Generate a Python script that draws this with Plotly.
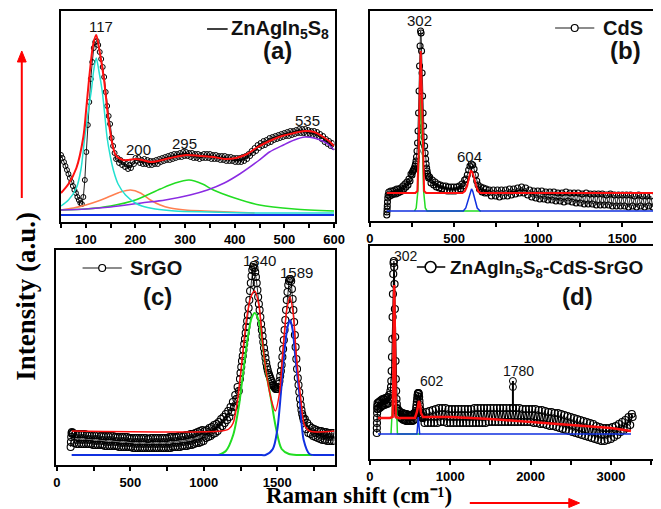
import plotly.graph_objects as go

W, H = 661, 509

# ---------------- Panel (a): ZnAgIn5S8 ----------------
a_x = [50, 53, 56, 59, 62, 65, 68, 71, 74, 77,
       80, 83, 86, 89, 92, 95, 98, 101, 104, 107,
       110, 113, 116, 119, 122, 125, 128, 131, 134, 137,
       140, 143, 146, 149, 152, 155, 158, 161, 164, 167,
       170, 173, 176, 179, 182, 185, 188, 191, 194, 197,
       200, 203, 206, 209, 212, 215, 218, 221, 224, 227,
       230, 233, 236, 239, 242, 245, 248, 251, 254, 257,
       260, 263, 266, 269, 272, 275, 278, 281, 284, 287,
       290, 293, 296, 299, 302, 305, 308, 311, 314, 317,
       320, 323, 326, 329, 332, 335, 338, 341, 344, 347,
       350, 353, 356, 359, 362, 365, 368, 371, 374, 377,
       380, 383, 386, 389, 392, 395, 398, 401, 404, 407,
       410, 413, 416, 419, 422, 425, 428, 431, 434, 437,
       440, 443, 446, 449, 452, 455, 458, 461, 464, 467,
       470, 473, 476, 479, 482, 485, 488, 491, 494, 497,
       500, 503, 506, 509, 512, 515, 518, 521, 524, 527,
       530, 533, 536, 539, 542, 545, 548, 551, 554, 557,
       560, 563, 566, 569, 572, 575, 578, 581, 584, 587,
       590, 593, 596, 599]
a_y = [67, 64, 60, 56, 52, 48, 44, 40, 36, 32,
       29, 25, 22, 19, 18, 25, 42, 70, 97, 120,
       143, 160, 174, 180, 181, 177, 170, 163, 155, 145,
       130, 116, 106, 98, 84, 76, 69, 63, 64, 59,
       62, 57, 60, 55, 58, 53, 57, 54, 60, 58,
       64, 61, 64, 59, 62, 58, 63, 58, 62, 57,
       61, 57, 61, 58, 62, 58, 63, 60, 64, 61,
       65, 62, 66, 62, 67, 63, 68, 64, 68, 65,
       69, 65, 70, 66, 70, 66, 69, 65, 69, 64,
       68, 64, 68, 63, 67, 64, 68, 64, 68, 64,
       68, 63, 67, 63, 67, 63, 66, 62, 66, 62,
       66, 61, 65, 61, 65, 61, 64, 60, 64, 60,
       64, 60, 65, 61, 66, 63, 68, 66, 71, 69,
       74, 71, 77, 74, 79, 76, 81, 77, 82, 79,
       84, 80, 85, 82, 86, 83, 87, 84, 88, 85,
       89, 86, 90, 86, 91, 87, 91, 88, 92, 89,
       93, 89, 93, 89, 93, 88, 92, 88, 91, 87,
       91, 86, 90, 85, 88, 83, 86, 80, 83, 78,
       81, 76, 79, 75]
a_fit_x = [50, 65, 81, 95, 101, 108, 115, 121, 128, 137, 147, 160, 175, 186, 200, 213, 230, 245,
           270, 304, 330, 357, 380, 403, 425, 443, 470, 495, 520, 541, 560, 575, 590, 600]
a_fit_y = [29, 38, 54, 85, 114, 150, 178, 187, 170, 141, 97, 67, 62, 62, 63, 62, 60, 61,
           64, 67, 66, 65, 63, 64, 68, 74, 81, 86, 89, 91, 90, 86, 81, 76]
a_p1_x = [50, 65, 81, 90, 97, 104, 111, 116, 121, 126, 133, 138, 143, 150, 156, 165, 180, 200, 213, 240, 279, 350, 450, 600]
a_p1_y = [16, 22, 34, 52, 81, 108, 131, 152, 164, 152, 131, 108, 84, 64, 51, 38, 27, 19, 16, 13, 11, 10, 9, 9]
a_p2_x = [50, 75, 100, 125, 150, 170, 190, 210, 230, 250, 270, 300, 340, 390, 440]
a_p2_y = [12, 14, 17, 21, 26, 30, 32, 29, 22, 17, 14, 12, 11, 10, 9]
a_p3_x = [50, 100, 150, 200, 250, 280, 308, 335, 357, 400, 450, 520, 600]
a_p3_y = [12, 13, 16, 22, 33, 39, 42, 38, 32, 24, 17, 13, 11]
a_p4_x = [50, 100, 150, 212, 260, 310, 345, 379, 410, 447, 470, 498, 520, 541, 560, 577, 590, 600]
a_p4_y = [12, 13, 15, 19, 22, 27, 32, 39, 48, 61, 70, 77, 82, 85, 84, 81, 77, 72]
a_base_x = [50, 600]
a_base_y = [7, 7]

# ---------------- Panel (b): CdS ----------------
b_x = [100, 101, 102, 103, 104, 106, 108,
       112, 118, 124, 130, 136, 142, 148, 154, 160, 166, 172, 178, 184, 190, 196, 202, 208, 214, 220, 226, 232, 238, 244, 250,
       253, 256, 259, 262, 265, 268, 271, 274, 277, 280, 283, 286, 289, 292, 295, 298, 301, 304, 307, 310,
       313, 316, 319, 322, 325, 328, 331, 334, 337, 340, 343, 346, 349,
       355, 363, 371, 379, 387, 395, 403, 411, 419, 427, 435, 443, 451, 459, 467, 475, 483, 491, 499, 507,
       515, 523, 531, 539, 547, 555, 563, 571, 579, 587, 595, 603, 611, 619, 627, 635, 643, 651, 659, 667,
       675, 683, 691, 699,
       710, 722, 734, 746, 758, 770, 782, 794, 806, 818, 830, 842, 854, 866, 878, 890, 902, 914, 926, 938,
       950, 962, 974, 986, 998, 1010, 1022, 1034, 1046, 1058, 1070, 1082, 1094, 1106, 1118, 1130, 1142, 1154, 1166, 1178,
       1190, 1202, 1214, 1226, 1238, 1250, 1262, 1274, 1286, 1298, 1310, 1322, 1334, 1346, 1358, 1370, 1382, 1394, 1406, 1418,
       1430, 1442, 1454, 1466, 1478, 1490, 1502, 1514, 1526, 1538, 1550, 1562, 1574, 1586, 1598, 1610, 1622, 1634, 1646, 1658,
       1670, 1682]
b_y = [6, 9, 12, 15, 19, 23, 26,
       29, 25, 30, 26, 30, 27, 31, 27, 32, 28, 32, 29, 33, 30, 35, 32, 37, 34, 39, 36, 42, 40, 47, 46,
       49, 50, 51, 52, 53, 55, 57, 60, 64, 70, 78, 90, 108, 130, 155, 175, 190, 188, 170, 148,
       125, 108, 95, 84, 75, 68, 62, 57, 53, 50, 47, 45, 43,
       44, 38, 41, 36, 39, 34, 37, 33, 36, 32, 35, 31, 35, 30, 34, 30, 34, 30, 34, 30,
       34, 31, 35, 32, 37, 35, 41, 42, 46, 51, 55, 57, 56, 52, 46, 40, 36, 32, 34, 29,
       33, 28, 32, 28,
       31, 25, 31, 25, 31, 24, 31, 25, 31, 25, 32, 26, 32, 27, 33, 28, 34, 28, 33, 26,
       31, 24, 30, 23, 30, 22, 30, 22, 29, 21, 29, 21, 29, 20, 28, 20, 28, 19, 29, 20,
       28, 19, 28, 18, 28, 18, 27, 17, 28, 17, 27, 17, 27, 16, 27, 16, 27, 16, 26, 16,
       27, 15, 26, 15, 26, 15, 26, 15, 26, 14, 26, 15, 25, 14, 26, 15, 25, 14, 25, 15,
       25, 14]
b_fit_x = [100, 250, 270, 282, 290, 296, 302, 308, 314, 322, 334, 355, 550, 565, 578, 590, 599, 608, 620, 633, 646, 660, 1700]
b_fit_y = [28, 28, 28, 30, 70, 130, 170, 130, 70, 30, 28, 28, 28, 30, 35, 44, 50, 49, 43, 34, 29, 28, 28]
b_p1_x = [265, 275, 285, 293, 302, 311, 319, 329, 340, 660]
b_p1_y = [10, 13, 30, 80, 125, 80, 30, 13, 10, 10]
b_p2_x = [100, 555, 570, 585, 597, 604, 611, 623, 638, 655, 1700]
b_p2_y = [10, 10, 13, 22, 30, 32, 30, 22, 13, 10, 10]

# ---------------- Panel (c): SrGO ----------------
c_x = [93, 95, 97, 99, 102, 105,
       110, 118, 126, 134, 142, 150, 158, 166, 174, 182,
       190, 198, 206, 214, 222, 230, 238, 246, 254, 262,
       270, 278, 286, 294, 302, 310, 318, 326, 334, 342,
       350, 358, 366, 374, 382, 390, 398, 406, 414, 422,
       430, 438, 446, 454, 462, 470, 478, 486, 494, 502,
       510, 518, 526, 534, 542, 550, 558, 566, 574, 582,
       590, 598, 606, 614, 622, 630, 638, 646, 654, 662,
       670, 678, 686, 694, 702, 710, 718, 726, 734, 742,
       750, 758, 766, 774, 782, 790, 798, 806, 814, 822,
       830, 838, 846, 854, 862, 870, 878, 886, 894, 902,
       910, 918, 926, 934, 942, 950, 958, 966, 974, 982,
       990, 998,
       1006, 1014, 1022, 1030, 1038, 1046, 1054, 1062, 1070, 1078, 1086, 1094, 1102, 1110, 1118, 1126,
       1134, 1142, 1150, 1158, 1166, 1174, 1182, 1190, 1198, 1206, 1214, 1222, 1230, 1238, 1246,
       1250, 1255, 1260, 1265, 1270, 1275, 1280, 1285, 1290, 1295,
       1300, 1305, 1310, 1315, 1320, 1325, 1330, 1335, 1340, 1345,
       1350, 1355, 1360, 1365, 1370, 1375, 1380, 1385, 1390, 1395,
       1400, 1405, 1410, 1415, 1420, 1425, 1430, 1435, 1440, 1445,
       1450, 1455, 1460, 1465, 1470, 1475, 1480, 1485, 1490, 1495,
       1500, 1505, 1510, 1515, 1520, 1525, 1530, 1535, 1540, 1545,
       1550, 1555, 1560, 1565, 1570, 1575, 1580, 1585, 1590, 1595,
       1600, 1605, 1610, 1615, 1620, 1625, 1630, 1635, 1640, 1645,
       1650, 1655, 1660, 1665, 1670, 1675, 1680,
       1688, 1696, 1704, 1712, 1720, 1728, 1736, 1744, 1752, 1760, 1768, 1776, 1784,
       1792, 1800, 1808, 1816, 1824, 1832, 1840, 1848, 1856, 1864, 1872, 1880, 1888]
c_y = [18, 23, 28, 32, 33, 31,
       32, 22, 31, 21, 31, 21, 31, 21, 31, 21,
       31, 21, 30, 21, 30, 21, 30, 20, 30, 20,
       30, 20, 30, 20, 29, 20, 29, 19, 29, 19,
       29, 19, 29, 19, 29, 19, 28, 19, 28, 18,
       28, 18, 28, 18, 28, 18, 28, 18, 27, 18,
       27, 17, 27, 17, 27, 17, 27, 17, 27, 17,
       27, 17, 27, 17, 26, 17, 27, 17, 27, 17,
       27, 17, 27, 17, 27, 17, 27, 17, 27, 17,
       27, 17, 28, 17, 28, 18, 28, 18, 28, 18,
       29, 18, 29, 19, 29, 19, 30, 19, 30, 20,
       31, 20, 31, 21, 32, 22, 33, 22, 34, 23,
       35, 24,
       34, 27, 35, 28, 37, 29, 38, 31, 40, 32, 41, 34, 43, 37, 46, 39,
       48, 42, 51, 45, 54, 48, 58, 53, 63, 58, 70, 66, 78, 74, 86,
       92, 98, 104, 109, 115, 121, 126, 132, 138, 144,
       150, 157, 165, 174, 182, 189, 195, 198, 200, 197,
       193, 188, 182, 175, 168, 161, 155, 148, 141, 135,
       129, 123, 117, 112, 107, 102, 98, 95, 92, 90,
       88, 86, 84, 82, 80, 79, 78, 77, 76, 76,
       76, 78, 81, 84, 89, 94, 100, 108, 116, 125,
       135, 145, 155, 165, 173, 180, 184, 186, 186, 184,
       176, 166, 155, 143, 130, 118, 106, 96, 87, 80,
       73, 66, 60, 55, 51, 48, 45,
       46, 36, 42, 32, 39, 31, 37, 29, 36, 28, 35, 27, 34,
       26, 34, 25, 33, 25, 33, 24, 32, 24, 32, 24, 32, 24]
c_fit_x = [100, 1120, 1170, 1200, 1230, 1260, 1290, 1320, 1347, 1375, 1400, 1430, 1460, 1487,
           1515, 1540, 1565, 1587, 1608, 1630, 1660, 1685, 1720, 1890]
c_fit_y = [34, 34, 36, 42, 65, 105, 145, 168, 174, 160, 122, 88, 65, 54,
           72, 117, 155, 168, 152, 110, 67, 40, 34, 34]
c_p1_x = [1100, 1150, 1200, 1240, 1270, 1300, 1325, 1347, 1370, 1395, 1425, 1455, 1490, 1530, 1580, 1640, 1740]
c_p1_y = [10, 14, 30, 60, 95, 128, 147, 152, 146, 125, 92, 68, 38, 16, 11, 10, 10]
c_p2_x = [100, 700, 1300, 1380, 1420, 1470, 1500, 1525, 1550, 1570, 1587, 1605, 1625, 1650, 1680, 1720, 1800, 1890]
c_p2_y = [10, 10, 10, 10, 10, 16, 35, 72, 115, 138, 145, 135, 105, 72, 25, 11, 10, 10]

# ---------------- Panel (d): ZnAgIn5S8-CdS-SrGO ----------------
d_x = [85, 86, 87, 88, 89, 90, 91,
       95, 103, 111, 119, 127, 135, 143, 151, 159, 167, 175, 183, 191, 199, 207, 215, 223, 231, 239, 247, 255,
       262, 266, 270, 274, 278, 282, 286, 290, 294, 298, 302, 306, 310, 314, 318, 322, 326, 330, 334, 338, 342,
       346, 354, 362, 370, 378, 386, 394, 402, 410, 418, 426, 434, 442, 450, 458, 466, 474, 482, 490, 498,
       506, 514, 522, 530, 538, 546, 554,
       560, 564, 568, 572, 576, 580, 584, 588, 592, 596, 600, 604, 608, 612, 616, 620, 624, 628, 632, 636,
       640, 644, 648, 652, 656,
       660, 680, 700, 720, 740, 760, 780, 800, 820, 840,
       860, 880, 900, 920, 940, 960, 980, 1000, 1020, 1040,
       1060, 1080, 1100, 1120, 1140, 1160, 1180, 1200, 1220, 1240,
       1260, 1280, 1300, 1320, 1340, 1360, 1380, 1400, 1420, 1440,
       1460, 1480, 1500, 1520, 1540, 1560, 1580, 1600, 1620, 1640,
       1660, 1680, 1700, 1720, 1740, 1760, 1780, 1800, 1820, 1840,
       1860, 1880, 1900, 1920, 1940, 1960, 1980, 2000, 2020, 2040,
       2060, 2080, 2100, 2120, 2140, 2160, 2180, 2200, 2220, 2240,
       2260, 2280, 2300, 2320, 2340, 2360, 2380, 2400, 2420, 2440,
       2460, 2480, 2500, 2520, 2540, 2560, 2580, 2600, 2620, 2640,
       2660, 2680, 2700, 2720, 2740, 2760, 2780, 2800, 2820, 2840,
       2860, 2880, 2900, 2920, 2940, 2960, 2980, 3000, 3020, 3040,
       3060, 3080, 3100, 3120, 3140, 3160, 3180, 3200, 3220, 3240,
       3260, 3270]
d_y = [26, 31, 36, 41, 46, 50, 53,
       56, 50, 57, 51, 58, 52, 59, 53, 60, 54, 60, 54, 61, 55, 61, 55, 62, 56, 64, 60, 68,
       72, 78, 88, 102, 120, 142, 165, 185, 196, 198, 192, 175, 150, 122, 98, 80, 68, 60, 55, 51, 48,
       50, 44, 48, 42, 47, 41, 46, 40, 46, 39, 45, 39, 45, 38, 45, 38, 44, 38, 44, 38,
       44, 38, 44, 38, 45, 39, 46,
       44, 45, 46, 48, 51, 54, 57, 60, 63, 65, 66, 66, 65, 62, 58, 54, 50, 47, 45, 44,
       43, 42, 42, 41, 41,
       46, 36, 47, 36, 48, 36, 49, 36, 50, 36,
       51, 37, 51, 37, 51, 36, 50, 36, 50, 36,
       50, 36, 50, 36, 50, 36, 50, 36, 50, 36,
       50, 36, 51, 36, 51, 36, 51, 36, 51, 36,
       51, 37, 51, 37, 51, 37, 51, 37, 51, 37,
       51, 37, 51, 37, 51, 37, 51, 37, 51, 37,
       51, 37, 50, 37, 50, 37, 50, 37, 50, 36,
       50, 36, 49, 35, 49, 35, 48, 34, 47, 33,
       47, 33, 46, 32, 46, 31, 45, 30, 44, 29,
       43, 28, 42, 27, 41, 26, 40, 25, 39, 24,
       38, 23, 37, 22, 36, 21, 35, 20, 33, 19,
       32, 18, 31, 18, 31, 19, 31, 20, 32, 22,
       33, 24, 35, 27, 37, 29, 39, 31, 42, 34,
       45, 42]
d_pt_x = [1780, 1780, 1780]
d_pt_y = [51, 72, 78]
d_fit_x = [100, 250, 282, 290, 296, 302, 308, 314, 322, 360, 560, 585, 598, 610, 622, 635, 660,
           1000, 1500, 2000, 2500, 3000, 3250]
d_fit_y = [41, 41, 42, 75, 140, 174, 140, 75, 42, 41, 41, 47, 56, 58, 55, 46, 42,
           42, 40, 37, 34, 31, 28]
d_p1_x = [262, 268, 273, 283, 293, 302, 311, 321, 331, 336, 342, 580, 625]
d_p1_y = [25, 40, 52, 58, 62, 64, 62, 58, 52, 40, 25, 25, 25]
d_p2_x = [100, 585, 595, 602, 609, 619, 3250]
d_p2_y = [25, 25, 35, 42, 35, 25, 25]


def P(xp, yp):
    return xp / W, 1 - yp / H


fig = go.Figure()


def data_trace(x, y, ax, size, lcolor='#444', lw=1, mlw=1):
    fig.add_trace(go.Scatter(
        x=x, y=y, xaxis=ax[0], yaxis=ax[1], mode='lines+markers',
        line=dict(color=lcolor, width=lw),
        marker=dict(symbol='circle-open', size=size, color='black', line=dict(width=mlw, color='black')),
        showlegend=False, hoverinfo='skip'))


def fit_trace(x, y, ax, color, width=1.5, shape='spline'):
    fig.add_trace(go.Scatter(
        x=x, y=y, xaxis=ax[0], yaxis=ax[1], mode='lines',
        line=dict(color=color, width=width, shape=shape, smoothing=0.8),
        showlegend=False, hoverinfo='skip'))


A = ('x', 'y')
B = ('x2', 'y2')
C = ('x3', 'y3')
D = ('x4', 'y4')

# (a)
data_trace(a_x, a_y, A, 5, '#222')
fit_trace(a_p2_x, a_p2_y, A, '#ff7f50')
fit_trace(a_p3_x, a_p3_y, A, '#22dd22')
fit_trace(a_p4_x, a_p4_y, A, '#8a2be2')
fit_trace(a_p1_x, a_p1_y, A, '#22e0d0')
fit_trace(a_base_x, a_base_y, A, '#1030e0', 2, 'linear')
fit_trace(a_fit_x, a_fit_y, A, '#ff1010', 2)

# (b)
data_trace(b_x, b_y, B, 6, '#333', 1, 1.1)
fit_trace(b_p1_x, b_p1_y, B, '#22dd22', 1.5, 'linear')
fit_trace(b_p2_x, b_p2_y, B, '#1030e0', 1.5, 'linear')
fit_trace(b_fit_x, b_fit_y, B, '#ff1010', 2, 'linear')

# (c)
data_trace(c_x, c_y, C, 7, '#333', 1, 1.1)
fit_trace(c_p1_x, c_p1_y, C, '#22dd22', 2)
fit_trace(c_p2_x, c_p2_y, C, '#1030e0', 2)
fit_trace(c_fit_x, c_fit_y, C, '#ff1010', 1.5)

# (d)
data_trace(d_x, d_y, D, 7, 'black', 1.2, 1.2)
fit_trace(d_p1_x, d_p1_y, D, '#22dd22', 1.5, 'linear')
fit_trace(d_p2_x, d_p2_y, D, '#1030e0', 1.5, 'linear')
fit_trace(d_fit_x, d_fit_y, D, '#ff1010', 2.5, 'linear')
data_trace(d_pt_x, d_pt_y, D, 7, 'black', 2)

tickfont = dict(family='Liberation Sans', size=13, color='black', weight='bold')


def xax(domain, rng, dtick, minor, anchor):
    return dict(domain=domain, range=rng, anchor=anchor, showline=True, linecolor='black', linewidth=2,
                mirror=True, showgrid=False, zeroline=False, ticks='outside', ticklen=4, tickwidth=1.5,
                tickcolor='black', dtick=dtick, tick0=0, tickfont=tickfont,
                minor=dict(dtick=minor, tick0=0, ticks='outside', ticklen=4, tickwidth=1.5, tickcolor='black'))


def yax(domain, rng, anchor):
    return dict(domain=domain, range=rng, anchor=anchor, showline=True, linecolor='black', linewidth=2,
                mirror=True, showgrid=False, zeroline=False, showticklabels=False, ticks='')


fig.update_layout(
    width=W, height=H, margin=dict(l=0, r=0, t=0, b=0),
    paper_bgcolor='white', plot_bgcolor='white', showlegend=False,
    xaxis=xax([51 / W, 330 / W], [50, 601], 100, 50, 'y'),
    yaxis=yax([1 - 214 / H, 1 - 3 / H], [0, 211], 'x'),
    xaxis2=xax([366 / W, 656 / W], [-1, 1690], 500, 250, 'y2'),
    yaxis2=yax([1 - 213 / H, 1 - 3 / H], [0, 210], 'x2'),
    xaxis3=xax([46 / W, 330 / W], [-6, 1890], 500, 250, 'y3'),
    yaxis3=yax([1 - 457 / H, 1 - 242 / H], [0, 215], 'x3'),
    xaxis4=xax([366 / W, 657 / W], [-2, 3550], 1000, 500, 'y4'),
    yaxis4=yax([1 - 451 / H, 1 - 238 / H], [0, 213], 'x4'),
)

annotations = []
shapes = []


def text(s, xp, yp, size, anchor='center', family='Liberation Sans', bold=False, angle=0, color='#111',
         yanchor='middle'):
    x, y = P(xp, yp)
    annotations.append(dict(text=('<b>%s</b>' % s) if bold else s, x=x, y=y, xref='paper', yref='paper',
                            xanchor=anchor, yanchor=yanchor, showarrow=False, textangle=angle,
                            font=dict(family=family, size=size, color=color)))


# peak labels
for s, xp, yp, sz in [('117', 92, 18, 15), ('200', 130, 142, 15), ('295', 177, 135, 15), ('535', 302, 113, 15),
                      ('302', 417, 12, 15), ('604', 468, 148, 15), ('1340', 253, 253, 15), ('1589', 291, 264, 15),
                      ('302', 403, 248, 14), ('602', 429, 373, 14), ('1780', 518, 363, 14)]:
    text(s, xp, yp, sz)


def seg(x0, y0, x1, y1, color, width=1.5):
    a0, b0 = P(x0, y0)
    a1, b1 = P(x1, y1)
    shapes.append(dict(type='line', xref='paper', yref='paper', x0=a0, y0=b0, x1=a1, y1=b1,
                       line=dict(color=color, width=width)))


def legend_circle(xc, yc, r, width=1.2):
    a0, b0 = P(xc - r, yc + r)
    a1, b1 = P(xc + r, yc - r)
    shapes.append(dict(type='circle', xref='paper', yref='paper', x0=a0, y0=b0, x1=a1, y1=b1,
                       fillcolor='white', line=dict(color='black', width=width)))


def arrow(x0, y0, x1, y1, head):
    seg(x0, y0, x1, y1, 'red', 2)
    pts = [P(px_, py_) for px_, py_ in head]
    path = 'M %f,%f L %f,%f L %f,%f Z' % (pts[0][0], pts[0][1], pts[1][0], pts[1][1], pts[2][0], pts[2][1])
    shapes.append(dict(type='path', xref='paper', yref='paper', path=path, fillcolor='red',
                       line=dict(color='red', width=1)))


# legends
seg(200, 21, 221, 21, 'black')
text('ZnAgIn<sub>5</sub>S<sub>8</sub>', 222, 21, 20, 'left', bold=True)
text('(a)', 272, 43, 24, bold=True)

seg(555, 20, 595, 20, '#666')
legend_circle(575, 20, 3.5)
text('CdS', 602, 20, 20, 'left', bold=True)
text('(b)', 627, 43, 24, bold=True)

seg(73, 260, 113, 260, '#666')
legend_circle(93, 260, 3.5)
text('SrGO', 119, 260, 20, 'left', bold=True)
text('(c)', 149, 288, 24, bold=True)

seg(414, 259, 443, 259, 'black')
legend_circle(428, 259, 5.5, 1.5)
text('ZnAgIn<sub>5</sub>S<sub>8</sub>-CdS-SrGO', 446, 261, 19, 'left', bold=True)
text('(d)', 578, 288, 24, bold=True)

# axis titles
text('Intensity (a.u.)', 15, 288, 27, family='Liberation Serif', bold=True, angle=-90, color='black')
text('Raman shift (cm\u207b\u00b9)', 355, 487, 23, family='Liberation Serif', bold=True, color='black')

# red arrows
arrow(11, 190, 11, 52, [(11, 43), (6.5, 54), (15.5, 54)])
arrow(468, 495, 571, 495, [(580, 495), (569, 490.5), (569, 499.5)])

fig.update_layout(annotations=annotations, shapes=shapes)
fig.write_html('out.html')
